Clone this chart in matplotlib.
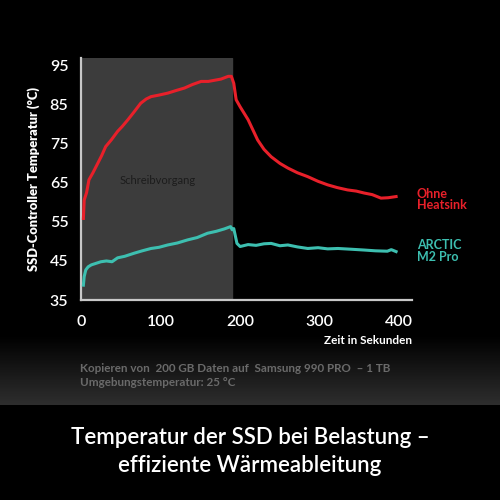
import numpy as np
import matplotlib
matplotlib.use("Agg")
import matplotlib.pyplot as plt
from matplotlib import font_manager as fm

plt.rcParams['font.family'] = ['Lato', 'DejaVu Sans']

# readings from the picture
t_red = [3, 4, 7, 10, 15, 21, 26, 31, 38, 46, 52, 59, 66, 75, 82, 88, 98, 109, 120, 130,
         140, 151, 160, 168, 176, 185, 189, 192, 195, 200, 210, 222, 230, 239, 250, 260,
         272, 285, 298, 310, 322, 335, 346, 356, 366, 377, 386, 396]
temp_red = [55.9, 60.6, 62.5, 65.8, 67.6, 70.0, 72.0, 74.3, 76.0, 78.2, 79.5, 81.2, 83.0,
            85.4, 86.5, 87.1, 87.5, 88.0, 88.7, 89.3, 90.2, 91.0, 91.0, 91.3, 91.6, 92.3,
            92.3, 90.5, 86.3, 84.5, 81.2, 76.0, 73.6, 71.7, 70.0, 68.8, 67.6, 66.6, 65.4,
            64.5, 63.8, 63.2, 62.9, 62.4, 62.0, 61.1, 61.2, 61.5]

t_cyan = [3, 4, 6, 9, 13, 19, 25, 32, 39, 46, 55, 67, 77, 88, 98, 109, 121, 134, 146, 159,
          170, 180, 188, 190, 192, 196, 200, 210, 220, 230, 239, 250, 260, 272, 285, 298,
          310, 323, 340, 356, 370, 385, 390, 396]
temp_cyan = [38.8, 41.0, 42.7, 43.5, 44.0, 44.4, 44.8, 45.0, 44.8, 45.8, 46.2, 47.0, 47.6,
             48.2, 48.5, 49.1, 49.6, 50.4, 51.0, 52.1, 52.6, 53.2, 53.8, 53.0, 53.3, 49.5,
             48.7, 49.2, 49.0, 49.4, 49.5, 48.9, 49.1, 48.6, 48.2, 48.4, 48.1, 48.2, 48.0,
             47.8, 47.6, 47.5, 47.9, 47.4]

x_ticks = [0, 100, 200, 300, 400]
y_ticks = [35, 45, 55, 65, 75, 85, 95]
write_end = 190

red = '#e8202a'
cyan = '#3dbfb0'

# Lato may come without a bold face; fall back to Open Sans for bold text then
lato_w = [f.weight for f in fm.fontManager.ttflist if f.name == 'Lato']
has_bold = any((w if isinstance(w, int) else 700 if 'bold' in str(w) else 400) >= 600
               for w in lato_w)
BOLD = ['Lato', 'DejaVu Sans'] if has_bold else ['Open Sans', 'DejaVu Sans']

fig = plt.figure(figsize=(5, 5), dpi=100, facecolor='black')

# grey gradient band under the chart
bg = fig.add_axes([0, 0.19, 1, 0.14])
grad = np.linspace(0, 1, 100).reshape(-1, 1)
bg.imshow(grad, aspect='auto', origin='lower', extent=[0, 1, 0, 1],
          cmap=matplotlib.colors.LinearSegmentedColormap.from_list('g', ['#2e2e2e', '#000000']))
bg.axis('off')

ax = fig.add_axes([0.162, 0.4, 0.662, 0.484])
ax.set_facecolor('black')
ax.axvspan(0, write_end, color='#3c3c3c', zorder=0)
ax.plot(t_red, temp_red, color=red, lw=2.2, zorder=3)
ax.plot(t_cyan, temp_cyan, color=cyan, lw=2.2, zorder=3)

ax.set_xlim(0, 416)
ax.set_ylim(35, 97)
ax.set_xticks(x_ticks)
ax.set_yticks(y_ticks)
ax.tick_params(colors='white', length=0, labelsize=11.5)
ax.tick_params(axis='x', pad=11)
ax.tick_params(axis='y', pad=9)
for lab in ax.get_xticklabels() + ax.get_yticklabels():
    lab.set_family(BOLD)
    lab.set_fontweight('semibold')
for s in ['top', 'right']:
    ax.spines[s].set_visible(False)
for s in ['left', 'bottom']:
    ax.spines[s].set_color('#c8c8c8')
    ax.spines[s].set_linewidth(1.6)

ax.set_ylabel('SSD-Controller Temperatur (°C)', color='white', fontsize=9.3,
              family=BOLD, fontweight='heavy', labelpad=7)
ax.text(416, 26, 'Zeit in Sekunden', color='white', fontsize=8.5, family=BOLD,
        fontweight='bold', ha='right', va='top', clip_on=False)
ax.text(96, 65.5, 'Schreibvorgang', color='#1c1c1c', fontsize=8, ha='center', va='center')

ax.text(422, 60.8, 'Ohne\nHeatsink', color=red, fontsize=9, family=BOLD, fontweight='bold',
        ha='left', va='center', linespacing=0.95, clip_on=False)
ax.text(422, 47.5, 'ARCTIC\nM2 Pro', color=cyan, fontsize=9, family=BOLD, fontweight='bold',
        ha='left', va='center', linespacing=0.95, clip_on=False)

fig.text(0.16, 0.264, 'Kopieren von  200 GB Daten auf  Samsung 990 PRO  – 1 TB',
         color='#6a6a6a', fontsize=8.4, family=BOLD, fontweight='bold', va='center')
fig.text(0.16, 0.236, 'Umgebungstemperatur: 25 °C',
         color='#6a6a6a', fontsize=8.4, family=BOLD, fontweight='bold', va='center')

fig.text(0.5, 0.126, 'Temperatur der SSD bei Belastung –', color='white',
         fontsize=16, family=BOLD, fontweight='semibold', ha='center', va='center')
fig.text(0.5, 0.069, 'effiziente Wärmeableitung', color='white',
         fontsize=16, family=BOLD, fontweight='semibold', ha='center', va='center')

fig.savefig('out.png', dpi=100, facecolor='black')
